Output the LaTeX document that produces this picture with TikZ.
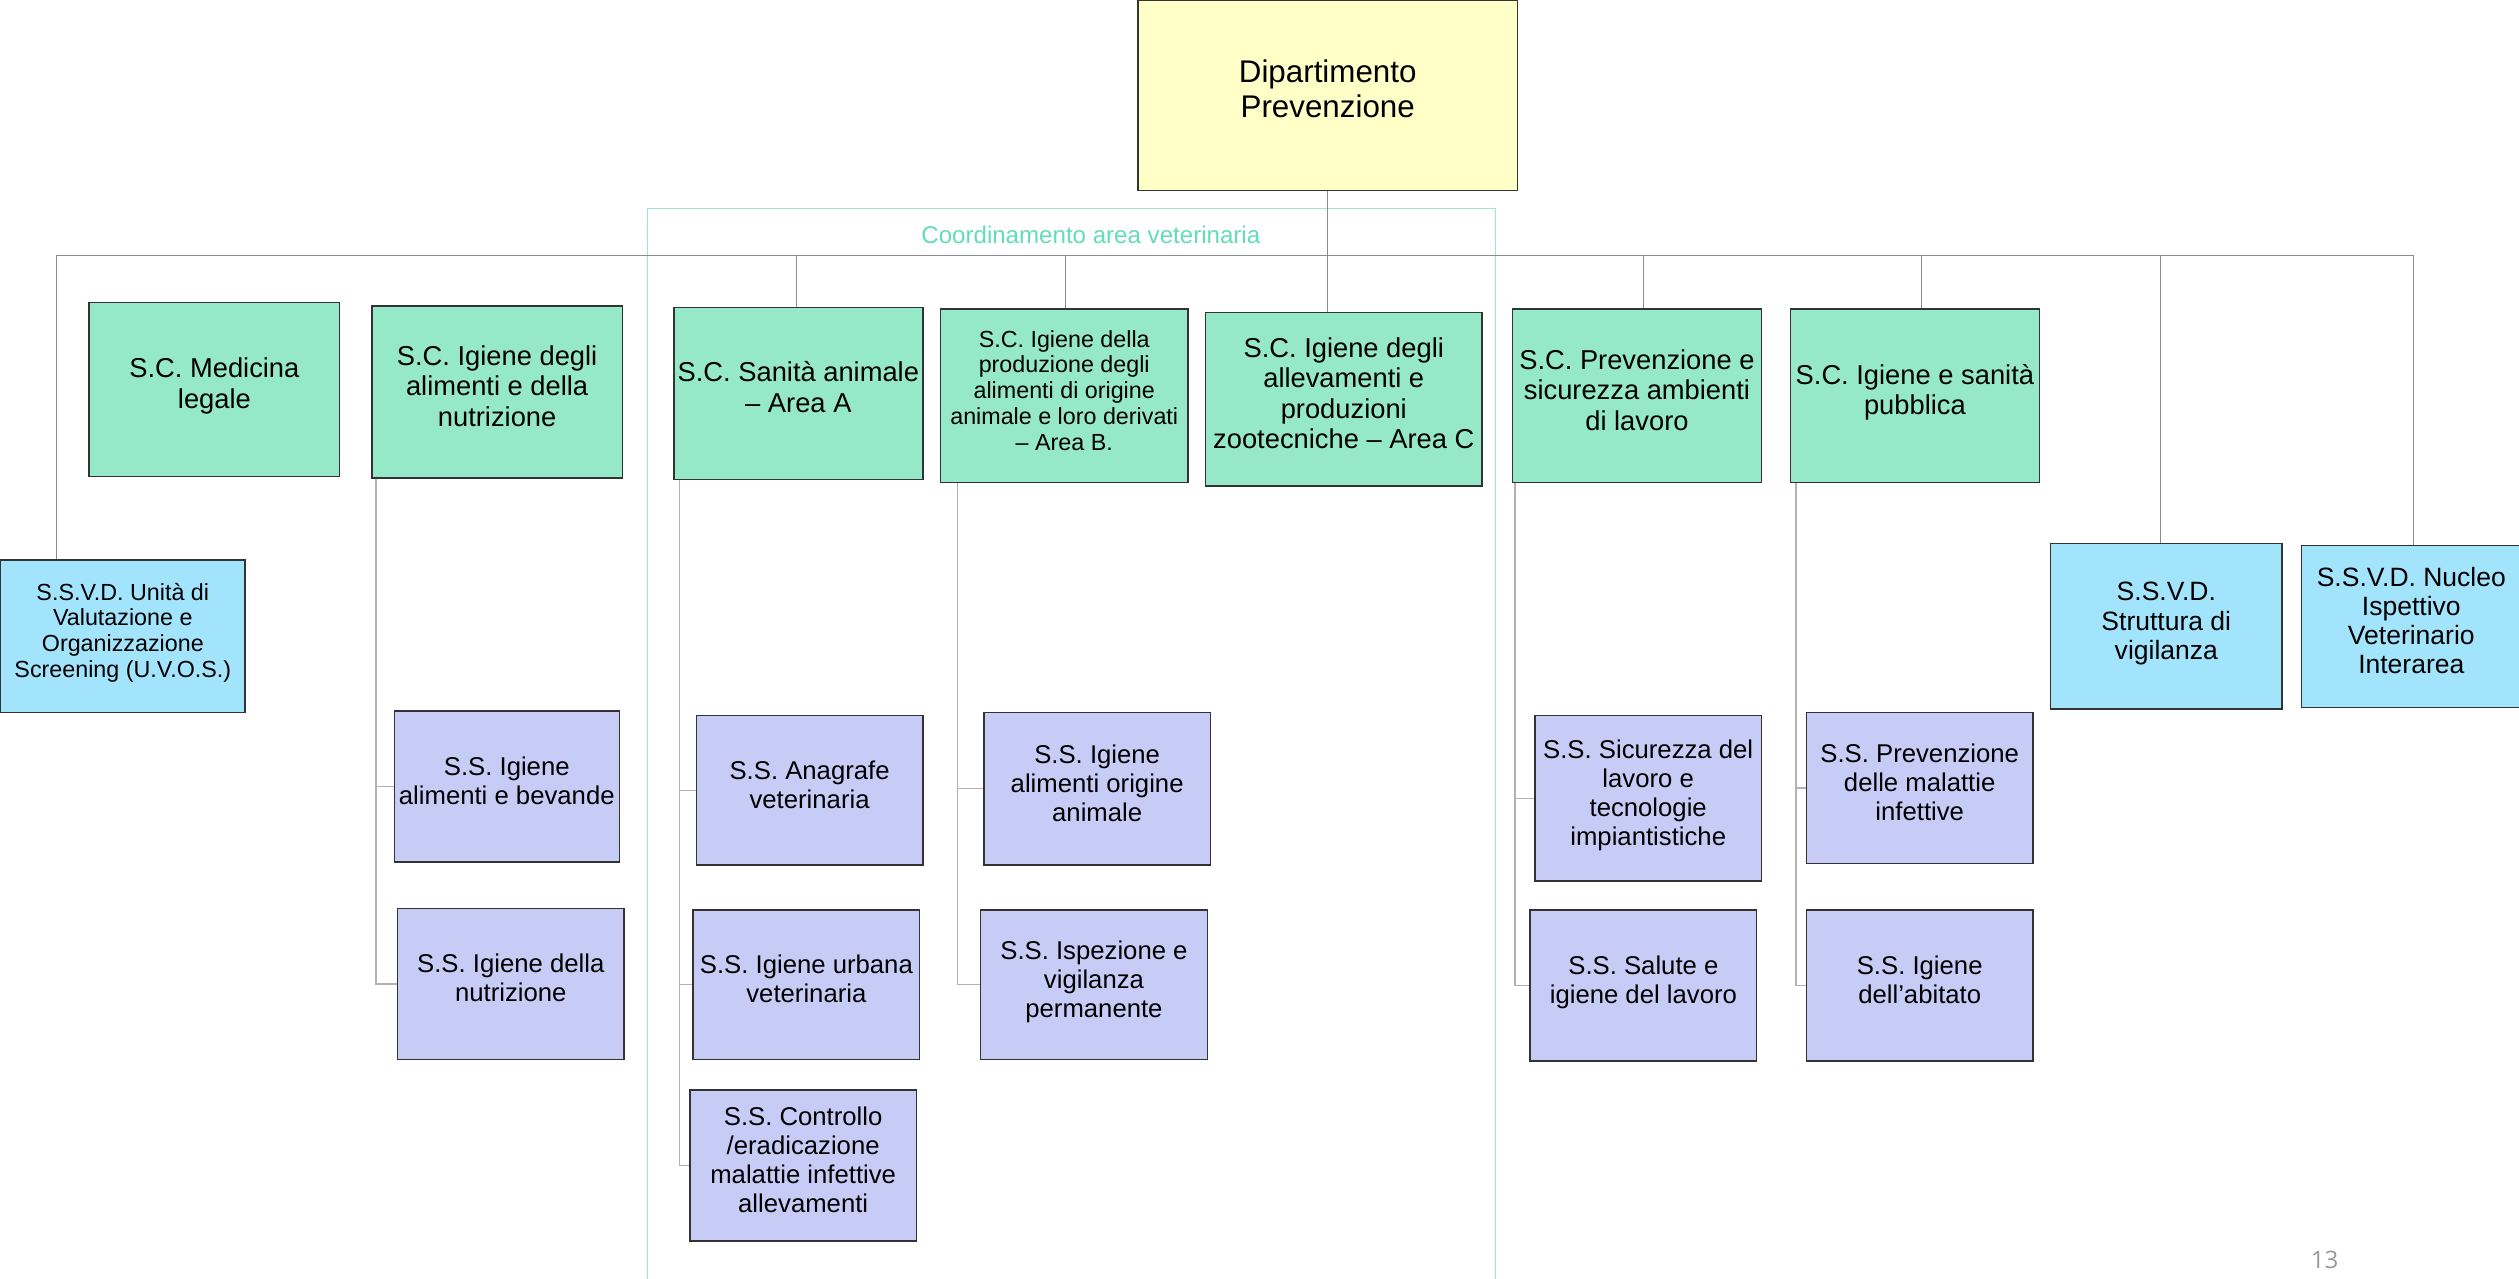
\documentclass[tikz,border=0pt]{standalone}
\usepackage{fontspec}
\setmainfont{Liberation Sans}
\newfontfamily\pagefont{Open Sans}
\definecolor{deptyellow}{HTML}{FFFFC8}
\definecolor{scgreen}{HTML}{96E9C8}
\definecolor{ssvdblue}{HTML}{A3E4FD}
\definecolor{sslav}{HTML}{C6CCF6}
\definecolor{vetteal}{HTML}{62DDB4}
\definecolor{framegray}{HTML}{333333}
% centred lines, set a little above the middle of their box
\newcommand\boxlines[1]{\raisebox{1.5pt}[\height][\depth]{\begin{tabular}{@{}c@{}}#1\end{tabular}}}
\begin{document}
\begin{tikzpicture}[x=1pt,y=-1pt,
  unit/.style={draw=framegray, line width=0.9pt, inner sep=1pt,
    anchor=north west, text=black},
  dept/.style={unit, fill=deptyellow, font=\fontsize{19.5}{22}\selectfont},
  sc/.style={unit, fill=scgreen, font=\fontsize{17}{19}\selectfont},
  scsmall/.style={unit, fill=scgreen, font=\fontsize{14.5}{16}\selectfont},
  ssvd/.style={unit, fill=ssvdblue, font=\fontsize{16.5}{18.5}\selectfont},
  ssvdsmall/.style={unit, fill=ssvdblue, font=\fontsize{14.5}{16}\selectfont},
  ss/.style={unit, fill=sslav, font=\fontsize{16}{18}\selectfont},
  conn/.style={draw=black!45, line width=0.6pt},
  subconn/.style={draw=black!30, line width=0.8pt},
]
\useasboundingbox (0,0) rectangle (1568,796);

% veterinary coordination frame
\draw[vetteal!65, line width=0.6pt] (403,796) -- (403,130) -- (931,130) -- (931,796);
\node[text=vetteal, font=\fontsize{15}{17}\selectfont] (coordlabel) at (679,146) {Coordinamento area veterinaria};

% department
\node[dept, minimum width=236, minimum height=118] (top) at (708,0) {\boxlines{Dipartimento\\Prevenzione}};

% complex structures
\node[sc, minimum width=156, minimum height=108] (med) at (55,188) {\boxlines{S.C. Medicina\\legale}};
\node[sc, minimum width=156, minimum height=107] (igal) at (231,190) {\boxlines{S.C. Igiene degli\\alimenti e della\\nutrizione}};
\node[sc, minimum width=155, minimum height=107] (sanA) at (419,191) {\boxlines{S.C. Sanità animale\\– Area A}};
\node[scsmall, minimum width=154, minimum height=108] (prodB) at (585,192) {\boxlines{S.C. Igiene della\\produzione degli\\alimenti di origine\\animale e loro derivati\\– Area B.}};
\node[sc, minimum width=172, minimum height=108] (allC) at (750,194) {\boxlines{S.C. Igiene degli\\allevamenti e\\produzioni\\zootecniche – Area C}};
\node[sc, minimum width=155, minimum height=108] (prev) at (941,192) {\boxlines{S.C. Prevenzione e\\sicurezza ambienti\\di lavoro}};
\node[sc, minimum width=155, minimum height=108] (isp) at (1114,192) {\boxlines{S.C. Igiene e sanità\\pubblica}};

% departmental simple structures
\node[ssvdsmall, minimum width=152, minimum height=95] (uvos) at (0,348) {\boxlines{S.S.V.D. Unità di\\Valutazione e\\Organizzazione\\Screening (U.V.O.S.)}};
\node[ssvd, minimum width=144, minimum height=103] (strv) at (1276,338) {\boxlines{S.S.V.D.\\Struttura di\\vigilanza}};
\node[ssvd, minimum width=137, minimum height=101, font=\fontsize{16.5}{18}\selectfont] (nucl) at (1432,339) {\boxlines{S.S.V.D. Nucleo\\Ispettivo\\Veterinario\\Interarea}};

% simple structures
\node[ss, minimum width=140, minimum height=94] (bev) at (245,442) {\boxlines{S.S. Igiene\\alimenti e bevande}};
\node[ss, minimum width=141, minimum height=94] (nut) at (247,565) {\boxlines{S.S. Igiene della\\nutrizione}};
\node[ss, minimum width=141, minimum height=93] (ana) at (433,445) {\boxlines{S.S. Anagrafe\\veterinaria}};
\node[ss, minimum width=141, minimum height=93] (urb) at (431,566) {\boxlines{S.S. Igiene urbana\\veterinaria}};
\node[ss, minimum width=141, minimum height=94] (ctl) at (429,678) {\boxlines{S.S. Controllo\\/eradicazione\\malattie infettive\\allevamenti}};
\node[ss, minimum width=141, minimum height=95] (aoa) at (612,443) {\boxlines{S.S. Igiene\\alimenti origine\\animale}};
\node[ss, minimum width=141, minimum height=93] (ispz) at (610,566) {\boxlines{S.S. Ispezione e\\vigilanza\\permanente}};
\node[ss, minimum width=141, minimum height=103] (sic) at (955,445) {\boxlines{S.S. Sicurezza del\\lavoro e\\tecnologie\\impiantistiche}};
\node[ss, minimum width=141, minimum height=94] (sal) at (952,566) {\boxlines{S.S. Salute e\\igiene del lavoro}};
\node[ss, minimum width=141, minimum height=94] (pmi) at (1124,443) {\boxlines{S.S. Prevenzione\\delle malattie\\infettive}};
\node[ss, minimum width=141, minimum height=94] (abi) at (1124,566) {\boxlines{S.S. Igiene\\dell’abitato}};

% main distribution bar
\coordinate (b1) at (35,159);
\coordinate (b2) at (496,159);
\coordinate (b3) at (663,159);
\coordinate (b5) at (1023,159);
\coordinate (b6) at (1196,159);
\coordinate (b7) at (1345,159);
\coordinate (b8) at (1502,159);
\draw[conn] (b1) -- (b8);
\draw[conn] (top.south) -- (top.south |- allC.north);
\draw[conn] (b1) -- (b1 |- uvos.north);
\draw[conn] (b2) -- (b2 |- sanA.north);
\draw[conn] (b3) -- (b3 |- prodB.north);
\draw[conn] (b5) -- (b5 |- prev.north);
\draw[conn] (b6) -- (b6 |- isp.north);
\draw[conn] (b7) -- (b7 |- strv.north);
\draw[conn] (b8) -- (b8 |- nucl.north);

% spines to the simple structures
\coordinate (s1) at (234,0);
\coordinate (s2) at (423,0);
\coordinate (s3) at (596,0);
\coordinate (s4) at (943,0);
\coordinate (s5) at (1118,0);
\draw[subconn] (s1 |- igal.south) -- (s1 |- nut.west) -- (nut.west);
\draw[subconn] (s1 |- bev.west) -- (bev.west);
\draw[subconn] (s2 |- sanA.south) -- (s2 |- ctl.west) -- (ctl.west);
\draw[subconn] (s2 |- ana.west) -- (ana.west);
\draw[subconn] (s2 |- urb.west) -- (urb.west);
\draw[subconn] (s3 |- prodB.south) -- (s3 |- ispz.west) -- (ispz.west);
\draw[subconn] (s3 |- aoa.west) -- (aoa.west);
\draw[subconn] (s4 |- prev.south) -- (s4 |- sal.west) -- (sal.west);
\draw[subconn] (s4 |- sic.west) -- (sic.west);
\draw[subconn] (s5 |- isp.south) -- (s5 |- abi.west) -- (abi.west);
\draw[subconn] (s5 |- pmi.west) -- (pmi.west);

% slide number
\node[text=black!40, font=\pagefont\fontsize{15}{17}\selectfont] (pagenum) at (1447,784) {13};
\end{tikzpicture}
\end{document}
